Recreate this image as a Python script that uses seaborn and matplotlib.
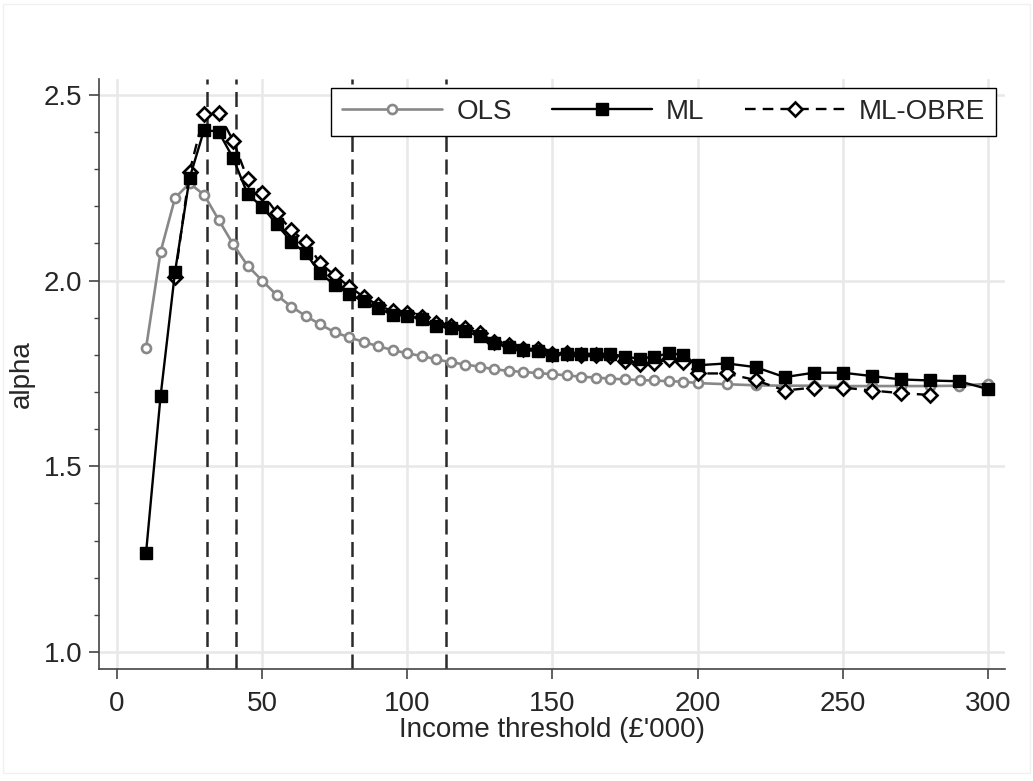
import numpy as np
import pandas as pd
import matplotlib
matplotlib.use("Agg")
import matplotlib.pyplot as plt
import seaborn as sns
from matplotlib.patches import Rectangle
from matplotlib.ticker import MultipleLocator

# ---------------- data ----------------
x_full = list(range(10, 201, 5)) + list(range(210, 301, 10))
ols = [1.818, 2.077, 2.223, 2.262, 2.231, 2.164, 2.098, 2.040, 2.000, 1.961,
       1.930, 1.905, 1.882, 1.861, 1.847, 1.835, 1.823, 1.813, 1.804, 1.797,
       1.788, 1.780, 1.774, 1.768, 1.761, 1.757, 1.754, 1.751, 1.748, 1.745,
       1.741, 1.739, 1.736, 1.734, 1.732, 1.731, 1.729, 1.728, 1.724,
       1.721, 1.718, 1.717, 1.717, 1.716, 1.716, 1.716, 1.716, 1.717, 1.722]
ml = [1.266, 1.688, 2.024, 2.276, 2.406, 2.401, 2.330, 2.233, 2.199, 2.152,
      2.105, 2.074, 2.020, 1.988, 1.964, 1.944, 1.926, 1.908, 1.905, 1.897,
      1.878, 1.872, 1.863, 1.851, 1.831, 1.822, 1.813, 1.811, 1.800, 1.803,
      1.803, 1.803, 1.803, 1.795, 1.790, 1.795, 1.804, 1.801, 1.772,
      1.777, 1.767, 1.740, 1.752, 1.752, 1.743, 1.734, 1.731, 1.729, 1.708]
x_obre = list(range(20, 201, 5)) + list(range(210, 281, 10))
obre = [2.011, 2.293, 2.448, 2.451, 2.377, 2.273, 2.235, 2.183, 2.136, 2.105,
        2.047, 2.014, 1.984, 1.956, 1.934, 1.917, 1.912, 1.903, 1.885, 1.879,
        1.872, 1.858, 1.836, 1.826, 1.815, 1.816, 1.802, 1.806, 1.801, 1.800,
        1.796, 1.784, 1.776, 1.779, 1.788, 1.782, 1.750,
        1.750, 1.732, 1.704, 1.712, 1.712, 1.704, 1.697, 1.692]
vlines = [31.0, 41.0, 81.0, 113.3]
x_ticks = [0, 50, 100, 150, 200, 250, 300]
y_ticks = [1.0, 1.5, 2.0, 2.5]

# ---------------- style ----------------
sns.set_theme(style="white")
plt.rcParams['font.family'] = ['Liberation Sans', 'DejaVu Sans']

fig = plt.figure(figsize=(10.33, 7.81), dpi=100)
ax = fig.add_axes([99/1033, 1 - 669/781, (1005-99)/1033, (669-79)/781])

# faint figure border
fig.patches.append(Rectangle((3/1033, 1 - 773/781), 1027/1033, 769/781,
                             transform=fig.transFigure, fill=False,
                             edgecolor='#f0f0f0', linewidth=1.0, zorder=0))

df_ols = pd.DataFrame({'x': x_full, 'y': ols})
df_ml = pd.DataFrame({'x': x_full, 'y': ml})
df_ob = pd.DataFrame({'x': x_obre, 'y': obre})

sns.lineplot(data=df_ols, x='x', y='y', ax=ax, color='#888888', linewidth=1.9,
             marker='o', markersize=6.5, markerfacecolor='white',
             markeredgecolor='#888888', markeredgewidth=1.9, label='OLS', zorder=3)
sns.lineplot(data=df_ob, x='x', y='y', ax=ax, color='black', linewidth=1.7,
             linestyle='--', marker='D', markersize=7.5, markerfacecolor='white',
             markeredgecolor='black', markeredgewidth=1.9, label='ML-OBRE', zorder=4)
sns.lineplot(data=df_ml, x='x', y='y', ax=ax, color='black', linewidth=1.7,
             marker='s', markersize=8, markerfacecolor='black',
             markeredgecolor='black', markeredgewidth=1.0, label='ML', zorder=5)

ob_line = ax.get_lines()[1]
ob_line.set_dashes((4.5, 3.0))

for v in vlines:
    ax.axvline(v, color='#2a2a2a', linewidth=1.8, dashes=(6.0, 3.0), zorder=2)

ax.set_xlim(-6.2, 305.9)
ax.set_ylim(0.954, 2.543)
ax.set_xticks(x_ticks)
ax.set_yticks(y_ticks)
ax.set_yticklabels([f"{t:.1f}" for t in y_ticks])
ax.yaxis.set_minor_locator(MultipleLocator(0.1))
ax.grid(True, which='major', color='#e8e8e8', linewidth=1.8, zorder=0)
ax.set_axisbelow(True)

for s in ['top', 'right']:
    ax.spines[s].set_visible(False)
for s in ['left', 'bottom']:
    ax.spines[s].set_color('#444444')
    ax.spines[s].set_linewidth(1.2)

ax.tick_params(axis='both', which='major', length=7, width=1.2, color='#444444',
               labelsize=20, direction='out', bottom=True, left=True)
ax.tick_params(axis='x', which='major', pad=9)
ax.tick_params(axis='y', which='major', pad=5)
ax.tick_params(axis='y', which='minor', length=3.5, width=1.0, color='#444444',
               left=True)

ax.set_xlabel("Income threshold (£'000)", fontsize=20, labelpad=0)
ax.set_ylabel("alpha", fontsize=20, labelpad=6)

h, l = ax.get_legend_handles_labels()
order = [l.index('OLS'), l.index('ML'), l.index('ML-OBRE')]
leg = ax.legend([h[i] for i in order], [l[i] for i in order], ncol=3,
                loc='upper right', bbox_to_anchor=(0.990, 0.985),
                fontsize=20, frameon=True, fancybox=False, edgecolor='black',
                handlelength=3.6, columnspacing=1.45, handletextpad=0.5,
                borderpad=0.4, borderaxespad=0.0, framealpha=1)
leg.get_frame().set_linewidth(1.0)
leg.set_zorder(10)

fig.savefig("out.png", dpi=100, facecolor='white')
